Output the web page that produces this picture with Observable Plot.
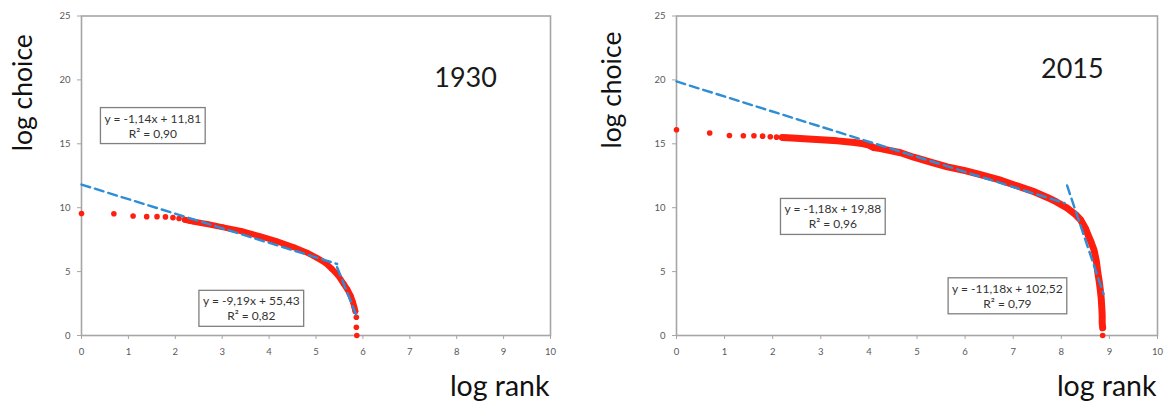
<!DOCTYPE html>
<html><head><meta charset="utf-8">
<script src="https://cdn.jsdelivr.net/npm/d3@7"></script>
<script src="https://cdn.jsdelivr.net/npm/@observablehq/plot@0.6"></script>
<style>
body{margin:0;background:#fff;}
#wrap{display:flex;width:1166px;height:403px;overflow:hidden;}
svg{display:block}
</style></head><body><div id="wrap"></div>
<script>
// ---- data ----
const xTicks = [0,1,2,3,4,5,6,7,8,9,10];
const yTicks = [0,5,10,15,20,25];

const logRank1930   = [0, 0.69, 1.10, 1.39, 1.61, 1.79, 1.95, 2.08, 2.20, 2.30, 2.40, 2.70, 3.00, 3.40, 3.82, 4.14, 4.53, 4.80, 5.03, 5.20, 5.34, 5.47, 5.59, 5.67, 5.74, 5.79, 5.82, 5.84, 5.86, 5.86, 5.87];
const logChoice1930 = [9.55, 9.53, 9.35, 9.30, 9.30, 9.28, 9.22, 9.16, 9.06, 8.98, 8.90, 8.70, 8.48, 8.18, 7.75, 7.40, 6.90, 6.50, 6.05, 5.68, 5.20, 4.70, 4.04, 3.60, 3.10, 2.60, 2.20, 1.90, 1.43, 0.65, 0];
const slopes1930     = [-1.14, -9.19];
const intercepts1930 = [11.81, 55.43];
const fitFrom1930    = [0, 5.45];
const fitTo1930      = [5.45, 5.87];
const eqText1930 = ["y = -1,14x + 11,81\nR² = 0,90", "y = -9,19x + 55,43\nR² = 0,82"];
const eqX1930 = [1.52, 3.62];
const eqY1930 = [16.45, 2.15];

const logRank2015   = [0, 0.69, 1.10, 1.39, 1.61, 1.79, 1.95, 2.08, 2.20, 2.30, 2.40, 2.65, 3.00, 3.34, 3.70, 3.89, 4.00, 4.10, 4.24, 4.66, 4.93, 5.30, 5.63, 6.00, 6.32, 6.70, 7.01, 7.40, 7.71, 7.90, 8.12, 8.30, 8.40, 8.50, 8.54, 8.62, 8.68, 8.73, 8.76, 8.79, 8.81, 8.83, 8.84, 8.85, 8.85, 8.86, 8.86];
const logChoice2015 = [16.10, 15.84, 15.65, 15.63, 15.63, 15.60, 15.55, 15.52, 15.50, 15.48, 15.45, 15.39, 15.32, 15.23, 15.10, 15.00, 14.90, 14.70, 14.62, 14.30, 13.95, 13.55, 13.20, 12.90, 12.58, 12.20, 11.80, 11.30, 10.80, 10.45, 9.97, 9.45, 9.06, 8.40, 8.02, 7.30, 6.70, 5.80, 4.90, 4.20, 3.60, 2.90, 2.30, 1.60, 1.00, 0.60, 0];
const slopes2015     = [-1.18, -11.18];
const intercepts2015 = [19.88, 102.52];
const fitFrom2015    = [0, 8.12];
const fitTo2015      = [8.07, 8.88];
const eqText2015 = ["y = -1,18x + 19,88\nR² = 0,96", "y = -11,18x + 102,52\nR² = 0,79"];
const eqX2015 = [3.25, 6.88];
const eqY2015 = [9.34, 3.13];

const years = ["1930", "2015"];

// ---- styles ----
const RED = "#ff1f0f";
const BLUE = "#2d8dd6";
const GREY = "#a6a6a6";

function panel(c) {
  const pts = c.xs.map((x, i) => ({x, y: c.ys[i]}));
  const band = pts.filter(d => d.x >= c.bandFrom && d.y >= c.bandMinY);
  const fits = c.slopes.flatMap((m, i) => [c.from[i], c.to[i]].map(x => ({x, y: m * x + c.icpt[i], k: i})));
  const eqs = c.eqText.map((t, i) => ({x: c.eqX[i], y: c.eqY[i], t}));
  return Plot.plot({
    width: c.width, height: 403,
    marginLeft: c.ml, marginRight: c.mr, marginTop: 15.5, marginBottom: 68,
    style: {fontFamily: "Lato, 'Open Sans', sans-serif", fontSize: "9.5px", color: "#595959", background: "#fff", overflow: "visible"},
    x: {domain: [0, 10]},
    y: {domain: [0, 25]},
    marks: [
      Plot.axisX({ticks: xTicks, tickSize: 4, tickPadding: 9, stroke: GREY, label: null}),
      Plot.axisY({ticks: yTicks, tickSize: 4, tickPadding: 7, stroke: GREY, label: null}),
      Plot.frame({stroke: GREY, strokeWidth: 1.6}),
      Plot.line(band, {x: "x", y: "y", stroke: RED, strokeWidth: c.bandW, strokeLinecap: "round", strokeLinejoin: "round"}),
      Plot.dot(pts, {x: "x", y: "y", r: 2.8, fill: RED}),
      Plot.line(fits, {x: "x", y: "y", z: "k", stroke: BLUE, strokeWidth: 2.4, strokeDasharray: "9,5"}),
      Plot.text(eqs, {x: "x", y: "y", text: "t", fontSize: 12, fill: "#333", lineHeight: 1.25}),
      Plot.text([c.year], {x: c.yearX, y: c.yearY, text: d => d, fontSize: 27, fill: "#1a1a1a"}),
      Plot.text(["log choice"], {frameAnchor: "left", y: () => c.ylabY, text: d => d, textAnchor: "middle", lineAnchor: "middle", rotate: -90, dx: c.ylabDx, fontSize: 26.5, fill: "#111"}),
      Plot.text(["log rank"], {frameAnchor: "bottom-right", text: d => d, textAnchor: "end", lineAnchor: "middle", dy: 51, dx: -1, fontSize: 28.5, fill: "#111"})
    ]
  });
}

const wrap = document.getElementById("wrap");
const cfgs = [
  {xs: logRank1930, ys: logChoice1930, slopes: slopes1930, icpt: intercepts1930, from: fitFrom1930, to: fitTo1930,
   eqText: eqText1930, eqX: eqX1930, eqY: eqY1930, year: years[0], yearX: 8.19, yearY: 20.1,
   width: 583, ml: 81, mr: 33, ylabDx: -58, ylabY: 19, bandFrom: 2.15, bandMinY: 1.8, bandW: 6},
  {xs: logRank2015, ys: logChoice2015, slopes: slopes2015, icpt: intercepts2015, from: fitFrom2015, to: fitTo2015,
   eqText: eqText2015, eqX: eqX2015, eqY: eqY2015, year: years[1], yearX: 8.23, yearY: 20.8,
   width: 583, ml: 93, mr: 9, ylabDx: -64, ylabY: 19.2, bandFrom: 2.15, bandMinY: 0.6, bandW: 7}
];
for (const c of cfgs) {
  const svg = panel(c);
  wrap.appendChild(svg);
  // boxes around the equation labels
  Array.from(svg.querySelectorAll("text"))
    .filter(t => t.textContent.startsWith("y ="))
    .forEach(t => {
      const b = t.getBBox();
      const padX = 4, padY = 3;
      const r = document.createElementNS("http://www.w3.org/2000/svg", "rect");
      r.setAttribute("x", b.x - padX);
      r.setAttribute("y", b.y - padY);
      r.setAttribute("width", b.width + 2 * padX);
      r.setAttribute("height", b.height + 2 * padY);
      r.setAttribute("fill", "#fff");
      r.setAttribute("stroke", "#7f7f7f");
      r.setAttribute("stroke-width", "1.3");
      const tr = t.getAttribute("transform");
      if (tr) r.setAttribute("transform", tr);
      t.parentNode.insertBefore(r, t);
    });
}
</script>
</body></html>
